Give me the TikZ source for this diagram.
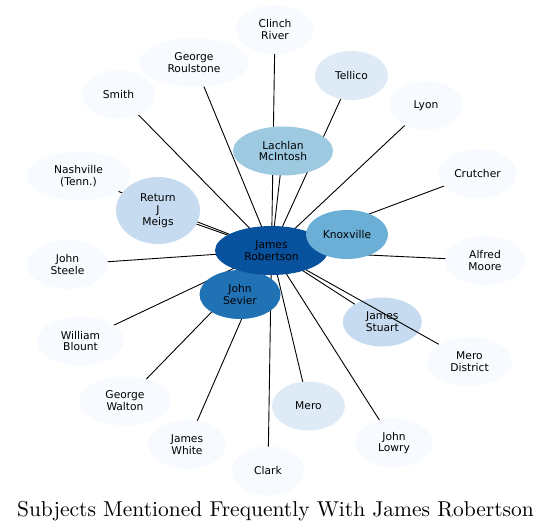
\documentclass[tikz,border=0pt]{standalone}
\usepackage{fontspec}
\usetikzlibrary{shapes.geometric}
\newfontfamily\nodefont{DejaVu Sans}
\newfontfamily\titlefont{lmroman10-regular}[Extension=.otf]
\definecolor{bA}{HTML}{F7FBFF}
\definecolor{bB}{HTML}{DEEBF7}
\definecolor{bC}{HTML}{C6DBEF}
\definecolor{bD}{HTML}{9ECAE1}
\definecolor{bE}{HTML}{6BAED6}
\definecolor{bG}{HTML}{2171B5}
\definecolor{bH}{HTML}{08519C}
\pgfdeclarelayer{background}
\pgfsetlayers{background,main}
\tikzset{
  nd/.style={ellipse, inner sep=0pt, minimum height=49pt, align=center,
    font={\nodefont\fontsize{10.7}{11.8}\selectfont}, text=black},
  edge/.style={draw=black, line width=0.9pt},
}
\begin{document}
\begin{tikzpicture}[x=1pt,y=-1pt]
\useasboundingbox (0,0) rectangle (552,532);
% peripheral nodes
\node[nd, fill=bA, minimum width=78pt] (clinch) at (275,29.5) {Clinch\\River};
\node[nd, fill=bA, minimum width=110pt] (roul) at (194,62.5) {George\\Roulstone};
\node[nd, fill=bB, minimum width=73pt] (tellico) at (351.5,75.5) {Tellico};
\node[nd, fill=bA, minimum width=73pt] (smith) at (118.5,94.5) {Smith};
\node[nd, fill=bA, minimum width=73pt] (lyon) at (426,105.5) {Lyon};
\node[nd, fill=bD, minimum width=100pt] (mcint) at (283,151) {Lachlan\\McIntosh};
\node[nd, fill=bA, minimum width=78pt] (crutch) at (477.5,173.5) {Crutcher};
\node[nd, fill=bA, minimum width=103pt] (nash) at (78.5,176) {Nashville\\(Tenn.)};
\node[nd, fill=bC, minimum width=84pt, minimum height=67pt] (meigs) at (158,210.5) {Return\\J\\Meigs};
\node[nd, fill=bA, minimum width=80pt] (moore) at (485,260.5) {Alfred\\Moore};
\node[nd, fill=bA, minimum width=81pt] (steele) at (67.5,264.5) {John\\Steele};
\node[nd, fill=bC, minimum width=79pt] (stuart) at (382.3,322) {James\\Stuart};
\node[nd, fill=bA, minimum width=87pt] (blount) at (80.5,341) {William\\Blount};
\node[nd, fill=bA, minimum width=85pt] (merod) at (469.5,361.5) {Mero\\District};
\node[nd, fill=bA, minimum width=92pt] (walton) at (125,401) {George\\Walton};
\node[nd, fill=bB, minimum width=73pt] (mero) at (308.5,406) {Mero};
\node[nd, fill=bA, minimum width=78pt] (white) at (187,444.5) {James\\White};
\node[nd, fill=bA, minimum width=78pt] (lowry) at (394,443) {John\\Lowry};
\node[nd, fill=bA, minimum width=72pt] (clark) at (268,471) {Clark};
\node[nd, fill=bG, minimum width=81pt] (sevier) at (240,294.5) {John\\Sevier};
\node[nd, fill=bH, minimum width=113pt] (jr) at (271.5,250.5) {James\\Robertson};
\node[nd, fill=bE, minimum width=82pt] (knox) at (347,234.5) {Knoxville};
% edges behind the nodes
\begin{pgfonlayer}{background}
\foreach \n in {clinch,roul,tellico,smith,lyon,mcint,crutch,nash,meigs,moore,steele,stuart,blount,walton,mero,white,lowry,clark,sevier,knox}
  \draw[edge] (jr.center) -- (\n.center);
\end{pgfonlayer}
% this edge runs over James Stuart
\draw[edge] (jr) -- (merod);
% title
\node[anchor=base, font=\titlefont\fontsize{21.5}{25}\selectfont] (title) at (275.5,516) {Subjects Mentioned Frequently With James Robertson};
\end{tikzpicture}
\end{document}
